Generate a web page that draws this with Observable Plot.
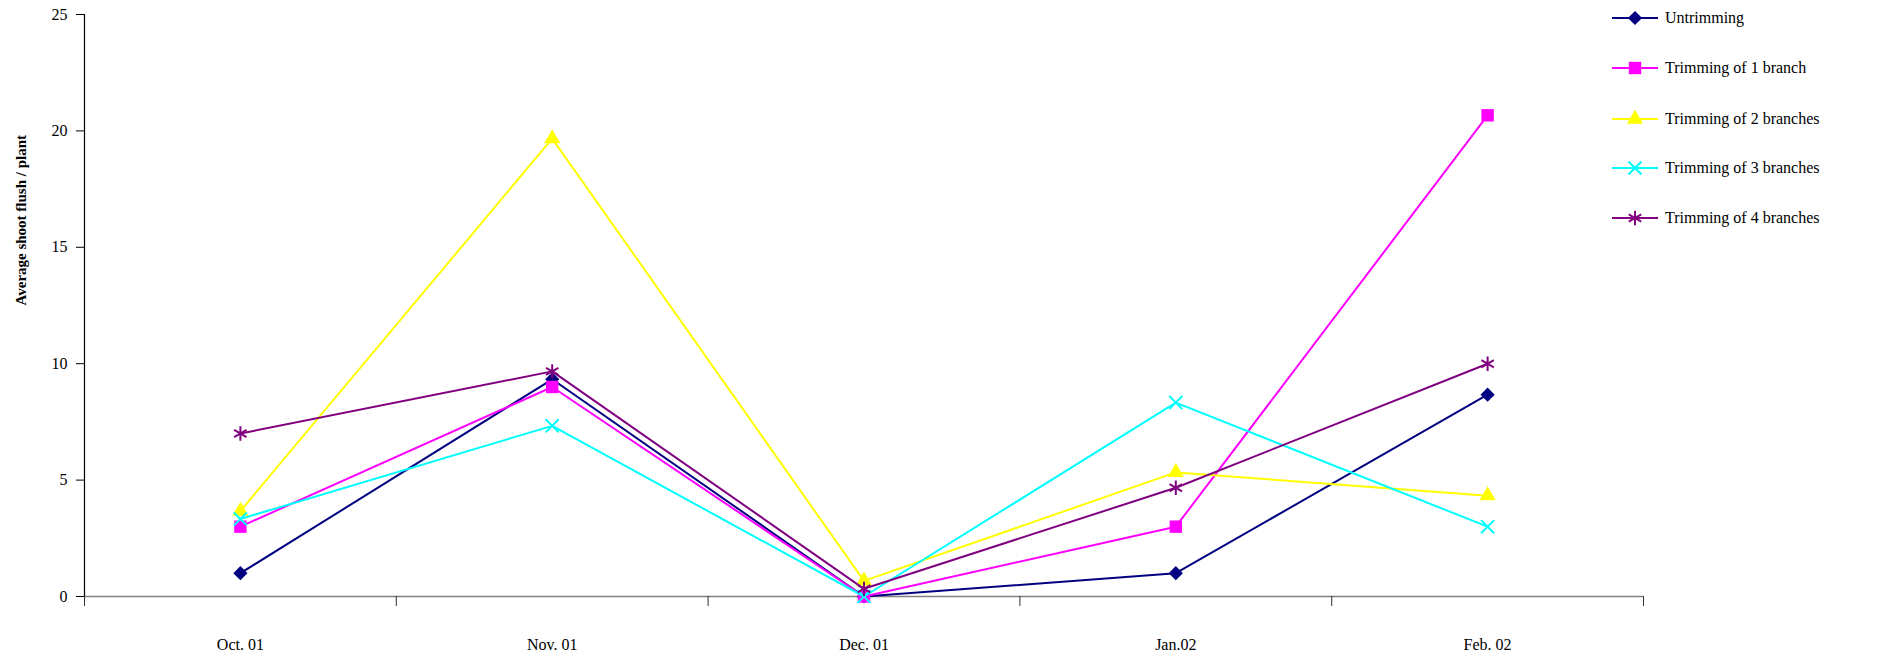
<!DOCTYPE html>
<html>
<head>
<meta charset="utf-8">
<script src="https://cdn.jsdelivr.net/npm/d3@7"></script>
<script src="https://cdn.jsdelivr.net/npm/@observablehq/plot@0.6"></script>
<style>
  html, body { margin: 0; padding: 0; background: #fff; }
  #wrap { position: relative; width: 1880px; height: 661px; font-family: "Liberation Serif", "Times New Roman", serif; }
  #legend { position: absolute; left: 1610px; top: 0px; }
  .row { position: absolute; left: 0; height: 24px; display: flex; align-items: center; white-space: nowrap; font-size: 16px; color: #000; }
  .row svg { margin-right: 5px; }
</style>
</head>
<body>
<div id="wrap"><div id="legend"></div></div>
<script>
const months = ["Oct. 01", "Nov. 01", "Dec. 01", "Jan.02", "Feb. 02"];
const seriesNames = ["Untrimming", "Trimming of 1 branch", "Trimming of 2 branches", "Trimming of 3 branches", "Trimming of 4 branches"];
const untrimming = [1, 9.33, 0, 1, 8.67];
const trim1 = [3, 9, 0, 3, 20.67];
const trim2 = [3.67, 19.67, 0.67, 5.33, 4.33];
const trim3 = [3.33, 7.33, 0, 8.33, 3];
const trim4 = [7, 9.67, 0.33, 4.67, 10];
const yTicks = [0, 5, 10, 15, 20, 25];
const colors = ["#000080", "#FF00FF", "#FFFF00", "#00FFFF", "#800080"];
const symbolTypes = [d3.symbolDiamond2, d3.symbolSquare, d3.symbolTriangle, d3.symbolTimes, d3.symbolAsterisk];
const filled = [true, true, true, false, false];
const radii = [6.4, 7, 6, 6, 6.8];

const allValues = [untrimming, trim1, trim2, trim3, trim4];
const data = [];
allValues.forEach((vals, s) => vals.forEach((v, i) => data.push({series: seriesNames[s], s, month: months[i], xi: i + 0.5, value: v})));

const marks = [
  Plot.ruleY([0], {stroke: "#808080", strokeWidth: 1.5}),
  Plot.ruleX([0], {stroke: "#000", strokeWidth: 1.2}),
  Plot.axisX(d3.range(months.length + 1), {tickSize: 10, tickFormat: () => "", stroke: "#333", label: null}),
  Plot.axisX(d3.range(months.length).map(i => i + 0.5), {tickSize: 0, tickPadding: 42, tickFormat: d => months[Math.floor(d)], fontSize: 16, fill: "#000", label: null}),
  Plot.axisY(yTicks, {tickSize: 8, tickPadding: 9, fontSize: 16, fill: "#000", stroke: "#000", label: null}),
  Plot.text(["Average shoot flush / plant"], {frameAnchor: "left", rotate: -90, dx: -63, fontSize: 15, fontWeight: "bold", fill: "#000"})
];
seriesNames.forEach((name, s) => {
  const d = data.filter(r => r.s === s);
  marks.push(Plot.line(d, {x: "xi", y: "value", stroke: colors[s], strokeWidth: 2}));
  marks.push(Plot.dot(d, filled[s]
    ? {x: "xi", y: "value", symbol: () => symbolTypes[s], fill: colors[s], r: radii[s], stroke: "none"}
    : {x: "xi", y: "value", symbol: () => symbolTypes[s], stroke: colors[s], r: radii[s], strokeWidth: 2, fill: "none"}));
});

const chart = Plot.plot({
  width: 1880,
  height: 661,
  marginLeft: 84,
  marginRight: 237,
  marginTop: 14,
  marginBottom: 65,
  style: {fontFamily: "'Liberation Serif', 'Times New Roman', serif", background: "#fff"},
  x: {type: "linear", domain: [0, months.length], axis: null, label: null},
  y: {domain: [0, 25], axis: null, label: null},
  symbol: {type: "identity"},
  marks
});
document.getElementById("wrap").prepend(chart);

// legend
const legend = d3.select("#legend");
const rowsY = [18, 68, 119, 168, 218];
seriesNames.forEach((name, s) => {
  const row = legend.append("div").attr("class", "row").style("top", (rowsY[s] - 12) + "px");
  const svg = row.append("svg").attr("width", 50).attr("height", 24);
  svg.append("line").attr("x1", 2).attr("x2", 48).attr("y1", 12).attr("y2", 12).attr("stroke", colors[s]).attr("stroke-width", 2);
  const size = Math.PI * radii[s] * radii[s];
  const p = svg.append("path").attr("transform", "translate(25,12)").attr("d", d3.symbol(symbolTypes[s], size)());
  if (filled[s]) p.attr("fill", colors[s]);
  else p.attr("fill", "none").attr("stroke", colors[s]).attr("stroke-width", 2);
  row.append("span").text(name);
});
</script>
</body>
</html>
